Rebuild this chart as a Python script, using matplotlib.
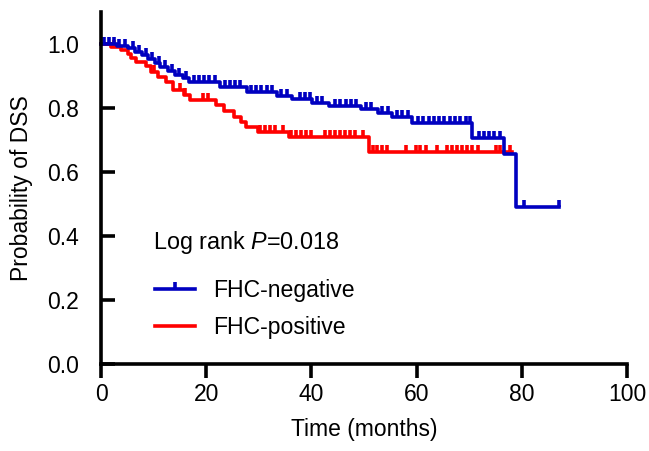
import numpy as np
import matplotlib
matplotlib.use("Agg")
import matplotlib.pyplot as plt
from matplotlib.lines import Line2D

plt.rcParams['font.family'] = ['Liberation Sans', 'DejaVu Sans']
plt.rcParams['mathtext.fontset'] = 'custom'
plt.rcParams['mathtext.rm'] = 'Liberation Sans'
plt.rcParams['mathtext.it'] = 'Liberation Sans:italic'

# FHC-negative: step times (months) and survival after each step
neg_times = [0, 3.0, 5.2, 6.5, 7.8, 9.0, 10.2, 11.3, 12.7, 14.0, 15.5, 16.8,
             22.6, 27.7, 33.4, 36.4, 40.2, 43.4, 49.5, 52.6, 55.4, 59.2,
             70.6, 76.7, 78.9]
neg_surv = [1.0, 0.993, 0.987, 0.976, 0.966, 0.953, 0.941, 0.929, 0.916, 0.903,
            0.894, 0.880, 0.866, 0.849, 0.836, 0.827, 0.815, 0.806, 0.796,
            0.784, 0.773, 0.754, 0.707, 0.656, 0.49]
neg_end = 87.0
neg_censor = [0.5, 1.5, 2.5, 3.5, 4.5, 6.0, 7.2, 8.5, 9.7, 11.0, 12.2, 13.5,
              14.8, 16.2, 17.6, 18.6, 19.6, 20.6, 21.6, 23.5, 24.5, 25.5, 26.5,
              28.5, 29.5, 30.5, 31.5, 32.5, 34.3, 35.3, 37.8, 38.8, 39.8, 41.0,
              42.0, 44.5, 45.5, 46.5, 47.5, 48.5, 50.4, 51.4, 53.5, 54.5, 56.3,
              57.3, 58.3, 60.3, 61.3, 62.3, 63.3, 64.3, 65.3, 66.3, 67.3, 68.3,
              69.3, 70.2, 71.8, 72.8, 73.8, 74.8, 75.8, 80.5, 87.0]

# FHC-positive
pos_times = [0, 1.9, 3.8, 5.1, 5.7, 6.6, 8.5, 9.5, 10.8, 12.3, 13.7, 15.7,
             17.0, 21.8, 23.4, 25.3, 26.6, 27.5, 29.8, 35.7, 50.9]
pos_surv = [1.0, 0.99, 0.98, 0.97, 0.955, 0.945, 0.93, 0.914, 0.898, 0.882,
            0.856, 0.84, 0.825, 0.81, 0.79, 0.773, 0.757, 0.742, 0.726, 0.708,
            0.663]
pos_end = 78.2
pos_censor = [2.5, 10.0, 15.0, 16.0, 19.4, 20.3, 30.2, 31.2, 32.1, 33.1, 34.6,
              36.1, 37.1, 38.0, 39.0, 39.9, 42.6, 43.5, 44.5, 45.4, 46.4, 47.3,
              48.3, 49.8, 51.7, 52.5, 53.4, 54.4, 58.0, 59.9, 60.6, 61.8, 63.9,
              65.8, 66.7, 67.7, 68.6, 69.6, 70.5, 71.7, 75.0, 75.9, 77.8]

blue = '#0000C0'
red = '#FF0000'
lw = 2.6


def surv_at(times, surv, t):
    idx = np.searchsorted(times, t, side='right') - 1
    return np.asarray(surv)[idx]


fig = plt.figure(figsize=(6.49, 4.51), dpi=100)
ax = fig.add_axes([101 / 649, 87 / 451, 526 / 649, 352 / 451])

for times, surv, end, cens, col in [(pos_times, pos_surv, pos_end, pos_censor, red),
                                    (neg_times, neg_surv, neg_end, neg_censor, blue)]:
    x = list(times) + [end]
    y = list(surv) + [surv[-1]]
    ax.step(x, y, where='post', color=col, lw=lw, clip_on=False)
    ax.plot(cens, surv_at(times, surv, cens), linestyle='none', marker=2,
            markersize=5, mew=lw, color=col, clip_on=False)

ax.set_xlim(0, 100)
ax.set_ylim(0, 1.1)
ax.set_xticks([0, 20, 40, 60, 80, 100])
ax.set_yticks([0.0, 0.2, 0.4, 0.6, 0.8, 1.0])
ax.set_yticklabels(['0.0', '0.2', '0.4', '0.6', '0.8', '1.0'])
for s in ['top', 'right']:
    ax.spines[s].set_visible(False)
for s in ['left', 'bottom']:
    ax.spines[s].set_linewidth(lw)
ax.tick_params(axis='x', direction='out', length=10, width=lw, labelsize=16.5, pad=4)
ax.tick_params(axis='y', direction='in', length=10, width=lw, labelsize=16.5, pad=16)
ax.set_xlabel('Time (months)', fontsize=16.5, labelpad=8)
ax.set_ylabel('Probability of DSS', fontsize=16.5, labelpad=10)

ax.text(9.9, 0.381, r'Log rank $\it{P}$=0.018', fontsize=16.8, va='center', ha='left')

handles = [Line2D([], [], color=blue, lw=lw, marker=2, markersize=5, mew=lw),
           Line2D([], [], color=red, lw=lw)]
ax.legend(handles, ['FHC-negative', 'FHC-positive'], frameon=False, fontsize=16.6,
          numpoints=1, handlelength=1.75, handletextpad=0.75, labelspacing=0.6,
          borderpad=0, borderaxespad=0, loc='upper left',
          bbox_to_anchor=(155 / 649, 172 / 451), bbox_transform=fig.transFigure)

fig.savefig('out.png', dpi=100)
